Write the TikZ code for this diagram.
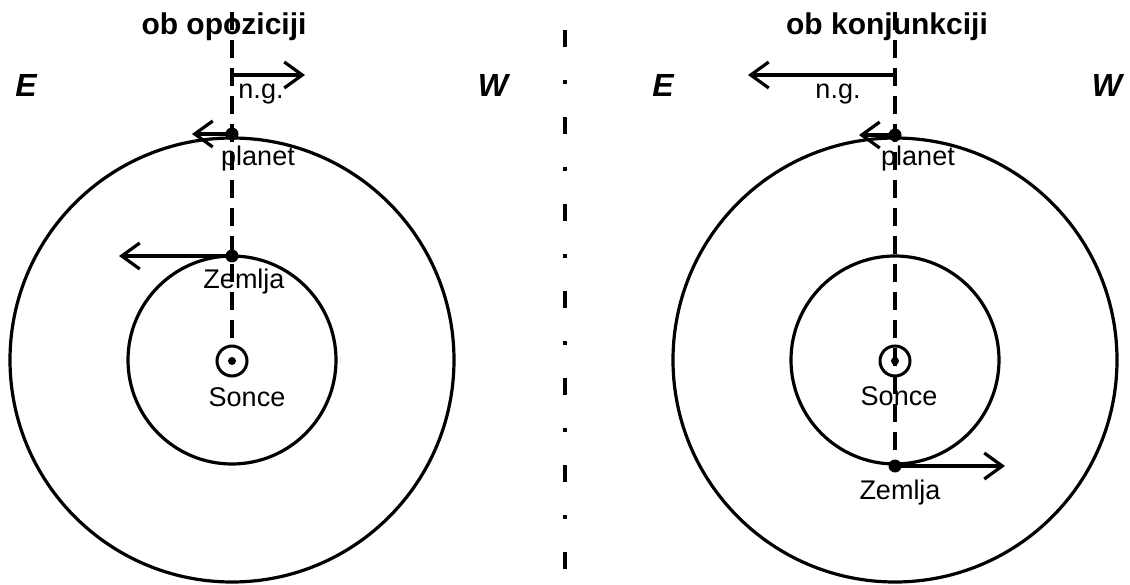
\documentclass[tikz,border=0pt]{standalone}
\usepackage{fontspec}
\setmainfont{Liberation Sans}
\usetikzlibrary{arrows.meta}

\begin{document}
\begin{tikzpicture}[x=1pt,y=-1pt,
  orbit/.style={line width=3.2pt},
  axisline/.style={line width=3.4pt, dash pattern=on 18pt off 10pt},
  divider/.style={line width=3.4pt, dash pattern=on 17pt off 33pt on 4pt off 33pt},
  motion/.style={line width=3.2pt,-{Straight Barb[length=18pt,width=26pt,line width=3.2pt]}},
  body/.style={circle,fill,inner sep=0pt,minimum size=13pt},
  sunring/.style={circle,draw,line width=3pt,inner sep=0pt,minimum size=30pt,fill=white},
  lbl/.style={font=\fontsize{27}{27}\selectfont, inner sep=0pt, anchor=base},
  ttl/.style={font=\fontsize{30}{30}\selectfont\bfseries, inner sep=0pt, anchor=base},
  dirlbl/.style={font=\fontsize{32}{32}\selectfont\bfseries\itshape, inner sep=0pt, anchor=base}]

\useasboundingbox (0,0) rectangle (1130,585);

% ---------- left panel: opposition ----------
\node[ttl] (Lt) at (224,35) {ob opoziciji};
\node[dirlbl] (LE) at (26,97) {E};
\node[dirlbl] (LW) at (493,97) {W};

\draw[orbit] (232,360) circle[radius=222];
\draw[orbit] (232,360) circle[radius=104];

\coordinate (Ltop) at (232,12);
\node[sunring] (Ls) at (232,361) {};
\fill (Ls.center) circle[radius=4];
\draw[axisline] (Ltop) -- (Ls.north);

\node[lbl] (Lsl) at (247,406) {Sonce};
\node[lbl] (Lel) at (244,289) {Zemlja};
\node[lbl] (Lpl) at (258,166) {planet};
\node[lbl] (Lngl) at (261,99) {n.g.};

\node[body] (Lp) at (232,134) {};
\node[body] (Le) at (232,256) {};

\coordinate (Lng) at (232,75);
\coordinate (Lngt) at (305,75);
\coordinate (Lpv) at (192,134);
\coordinate (Lev) at (119,256);
\draw[motion] (Lng) -- (Lngt);
\draw[motion] (Lp.center) -- (Lpv);
\draw[motion] (Le.center) -- (Lev);

% ---------- separator ----------
\coordinate (Dtop) at (565,30);
\coordinate (Dbot) at (565,585);
\draw[divider] (Dtop) -- (Dbot);

% ---------- right panel: conjunction ----------
\node[ttl] (Rt) at (887,35) {ob konjunkciji};
\node[dirlbl] (RE) at (663,97) {E};
\node[dirlbl] (RW) at (1107,97) {W};

\draw[orbit] (895,360) circle[radius=222];
\draw[orbit] (895,360) circle[radius=104];

\coordinate (Rtop) at (895,12);
\node[sunring] (Rs) at (895,361) {};
\fill (Rs.center) circle[radius=4];
\node[body] (Re) at (895,466) {};
\draw[axisline] (Rtop) -- (Re.center);

\node[lbl] (Rsl) at (899,405) {Sonce};
\node[lbl] (Rel) at (900,499) {Zemlja};
\node[lbl] (Rpl) at (918,166) {planet};
\node[lbl] (Rngl) at (838,99) {n.g.};

\node[body] (Rp) at (895,135) {};

\coordinate (Rng) at (895,75);
\coordinate (Rngt) at (748,75);
\coordinate (Rpv) at (859,135);
\coordinate (Rev) at (1005,466);
\draw[motion] (Rng) -- (Rngt);
\draw[motion] (Rp.center) -- (Rpv);
\draw[motion] (Re.center) -- (Rev);
\end{tikzpicture}
\end{document}
